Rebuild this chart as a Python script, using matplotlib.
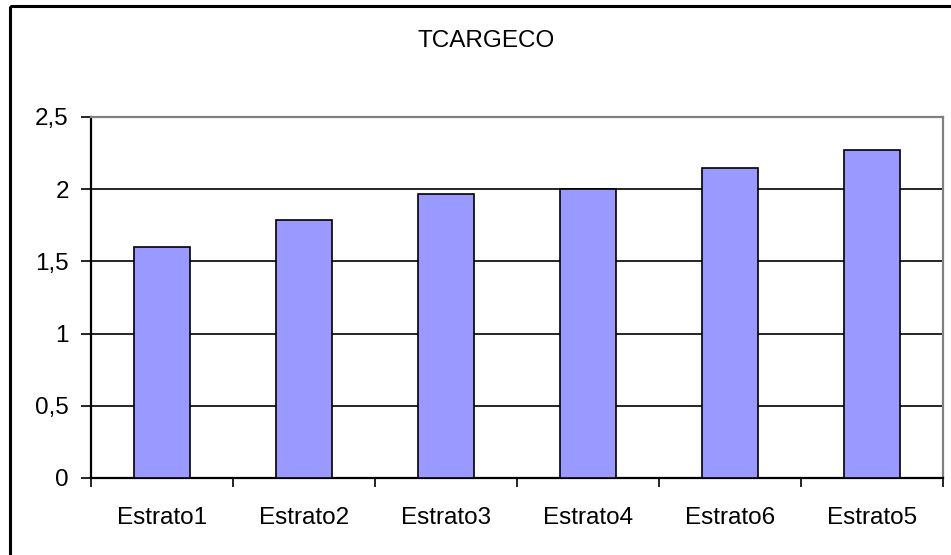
import matplotlib

matplotlib.use("Agg")
import matplotlib.pyplot as plt
from matplotlib.patches import Rectangle
from matplotlib.ticker import FuncFormatter
import numpy as np

categories = ["Estrato1", "Estrato2", "Estrato3", "Estrato4", "Estrato6", "Estrato5"]
values = [1.60, 1.79, 1.97, 2.00, 2.15, 2.27]
y_ticks = [0, 0.5, 1, 1.5, 2, 2.5]
title = "TCARGECO"

plt.rcParams["font.family"] = ["Liberation Sans", "DejaVu Sans"]

W, H, DPI = 951, 555, 100
fig = plt.figure(figsize=(W / DPI, H / DPI), dpi=DPI)
fig.patch.set_facecolor("white")

# outer chart border (right/bottom edges fall outside the image)
fig.patches.append(Rectangle((10 / W, 1 - 6 / H), 2, -2, transform=fig.transFigure,
                             fill=False, edgecolor="black", linewidth=2.2))

ax = fig.add_axes([91 / W, 1 - 478 / H, (943 - 91) / W, (478 - 117) / H])
x = np.arange(len(categories))
ax.bar(x, values, width=0.4, color="#9999FF", edgecolor="black", linewidth=1.2, zorder=3)

ax.set_xlim(-0.5, len(categories) - 0.5)
ax.set_ylim(0, 2.5)
ax.set_yticks(y_ticks)
ax.yaxis.set_major_formatter(FuncFormatter(lambda v, _: f"{v:g}".replace(".", ",")))
ax.grid(axis="y", color="black", linewidth=1.2, zorder=1)

ax.set_xticks(np.arange(len(categories) + 1) - 0.5)
ax.set_xticklabels([])
ax.set_xticks(x, minor=True)
ax.set_xticklabels(categories, minor=True)
ax.tick_params(axis="x", which="major", direction="out", length=6.5, width=1.2)
ax.tick_params(axis="x", which="minor", length=0, pad=21, labelsize=17.5)
ax.tick_params(axis="y", direction="out", length=7, width=1.2, pad=9, labelsize=17.5)

for side in ("left", "bottom"):
    ax.spines[side].set_color("black")
    ax.spines[side].set_linewidth(1.6)
for side in ("top", "right"):
    ax.spines[side].set_color("#808080")
    ax.spines[side].set_linewidth(1.6)

fig.text(486 / W, 1 - 41 / H, title, ha="center", va="center", fontsize=17.5)

fig.savefig("out.png", dpi=DPI)
